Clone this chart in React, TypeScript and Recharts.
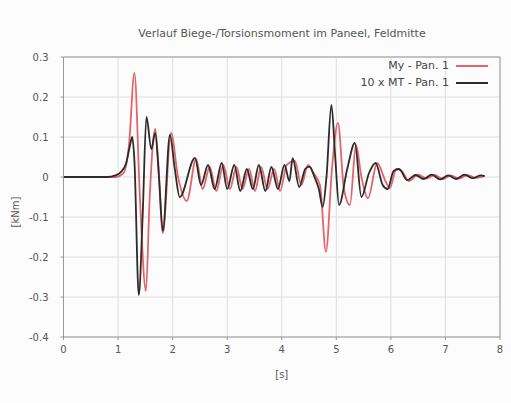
import {
  CartesianGrid,
  Line,
  LineChart,
  ReferenceLine,
  XAxis,
  YAxis,
} from 'recharts';

const title = 'Verlauf Biege-/Torsionsmoment im Paneel, Feldmitte';
const myName = 'My - Pan. 1';
const mtName = '10 x MT - Pan. 1';
const xLabel = '[s]';
const yLabel = '[kNm]';

const xTicks = [0, 1, 2, 3, 4, 5, 6, 7, 8];
const yTicks = [-0.4, -0.3, -0.2, -0.1, 0, 0.1, 0.2, 0.3];

// My - Pan. 1 (red)
const myTime = [
  0, 0.95, 1.1, 1.2, 1.3, 1.4, 1.51, 1.58, 1.68, 1.73, 1.82, 1.97, 2.1, 2.26,
  2.43, 2.55, 2.68, 2.8, 2.93, 3.05, 3.17, 3.28, 3.4, 3.51, 3.62, 3.74, 3.86,
  3.97, 4.09, 4.24, 4.36, 4.48, 4.58, 4.7, 4.81, 4.92, 5.03, 5.14, 5.25, 5.36,
  5.46, 5.58, 5.75, 5.9, 5.98, 6.1, 6.2, 6.33, 6.5, 6.65, 6.8, 6.95, 7.1, 7.25,
  7.4, 7.55, 7.72,
];
const myValue = [
  0, 0, 0.01, 0.08, 0.26, -0.05, -0.285, -0.05, 0.12, 0.05, -0.14, 0.11, 0.0,
  -0.06, 0.045, -0.03, 0.025, -0.035, 0.03, -0.03, 0.025, -0.03, 0.02, -0.035,
  0.025, -0.03, 0.02, -0.035, 0.03, 0.04, -0.02, 0.03, 0.01, -0.02, -0.187,
  0.02, 0.135, -0.03, -0.07, 0.08, 0.0, -0.053, 0.035, -0.01, -0.028, 0.02,
  0.015, -0.01, 0.006, -0.004, 0.005, -0.005, 0.004, -0.004, 0.005, -0.002,
  0.003,
];

// 10 x MT - Pan. 1 (black)
const mtTime = [
  0, 0.8, 0.95, 1.05, 1.15, 1.22, 1.26, 1.3, 1.38, 1.45, 1.52, 1.61, 1.68,
  1.75, 1.82, 1.95, 2.04, 2.13, 2.41, 2.52, 2.65, 2.77, 2.9, 3.0, 3.13, 3.24,
  3.36, 3.47, 3.58, 3.7, 3.81, 3.93, 4.05, 4.14, 4.2, 4.32, 4.43, 4.51, 4.6,
  4.68, 4.75, 4.82, 4.91, 4.98, 5.05, 5.2, 5.34, 5.46, 5.6, 5.72, 5.85, 5.94,
  6.05, 6.15, 6.3, 6.45, 6.6, 6.75, 6.9, 7.05, 7.2, 7.35, 7.5, 7.65, 7.72,
];
const mtValue = [
  0, 0, 0.004, 0.012, 0.035, 0.08, 0.1, 0.04, -0.295, -0.1, 0.15, 0.07, 0.11,
  0.0, -0.135, 0.105, 0.02, -0.05, 0.048, -0.02, 0.03, -0.03, 0.035, -0.03,
  0.03, -0.035, 0.02, -0.03, 0.03, -0.035, 0.025, -0.03, 0.03, -0.01, 0.047,
  -0.025, 0.02, 0.026, 0.0, -0.03, -0.075, 0.0, 0.18, 0.05, -0.07, 0.02, 0.085,
  -0.05, 0.01, 0.035, -0.02, -0.03, 0.015, 0.02, -0.008, 0.005, -0.005, 0.006,
  -0.006, 0.004, -0.005, 0.006, -0.003, 0.004, 0.002,
];

const myData = myTime.map((t, i) => ({ t, v: myValue[i] }));
const mtData = mtTime.map((t, i) => ({ t, v: mtValue[i] }));

const red = '#e4646a';
const black = '#2b2b2b';
const font = '"DejaVu Sans", sans-serif';
const tickStyle = { fontSize: 10, fill: '#555', fontFamily: font };

export default function App() {
  return (
    <div
      style={{
        position: 'absolute',
        left: 0,
        top: 0,
        width: 511,
        height: 403,
        background: '#fcfcfc',
        fontFamily: font,
      }}
    >
      <div
        style={{
          position: 'absolute',
          left: 0,
          width: 564,
          top: 27,
          textAlign: 'center',
          fontSize: 11,
          color: '#555',
        }}
      >
        {title}
      </div>
      <div
        style={{
          position: 'absolute',
          left: 15,
          top: 212,
          transform: 'translate(-50%, -50%) rotate(-90deg)',
          fontSize: 10,
          color: '#555',
          whiteSpace: 'nowrap',
        }}
      >
        {yLabel}
      </div>
      <LineChart
        width={511}
        height={403}
        margin={{ top: 57, right: 11, bottom: 0, left: 0 }}
      >
        <CartesianGrid stroke="#dedede" />
        <XAxis
          dataKey="t"
          type="number"
          domain={[0, 8]}
          ticks={xTicks}
          tick={tickStyle}
          tickSize={3}
          tickMargin={6}
          height={66}
          stroke="#999"
          allowDuplicatedCategory={false}
          label={{ value: xLabel, position: 'insideBottom', offset: 25, fontSize: 10, fill: '#555', fontFamily: font }}
        />
        <YAxis
          type="number"
          domain={[-0.4, 0.3]}
          ticks={yTicks}
          tick={tickStyle}
          tickFormatter={(v: number) => (v === 0 ? '0' : v.toFixed(1))}
          tickSize={3}
          tickMargin={12}
          width={63.5}
          stroke="#999"
        />
        <ReferenceLine y={0.3} stroke="#999" />
        <ReferenceLine x={8} stroke="#999" />
        <Line
          data={myData}
          dataKey="v"
          type="monotone"
          stroke={red}
          strokeWidth={1.8}
          dot={false}
          isAnimationActive={false}
        />
        <Line
          data={mtData}
          dataKey="v"
          type="monotone"
          stroke={black}
          strokeWidth={1.8}
          dot={false}
          isAnimationActive={false}
        />
      </LineChart>
      <div style={{ position: 'absolute', left: 330, top: 57, width: 158, fontSize: 11, color: '#444' }}>
        {[
          { name: myName, color: red },
          { name: mtName, color: black },
        ].map((item) => (
          <div key={item.name} style={{ display: 'flex', alignItems: 'center', justifyContent: 'flex-end', height: 17 }}>
            <span>{item.name}</span>
            <span style={{ display: 'inline-block', width: 32, height: 2, background: item.color, marginLeft: 7 }} />
          </div>
        ))}
      </div>
    </div>
  );
}
